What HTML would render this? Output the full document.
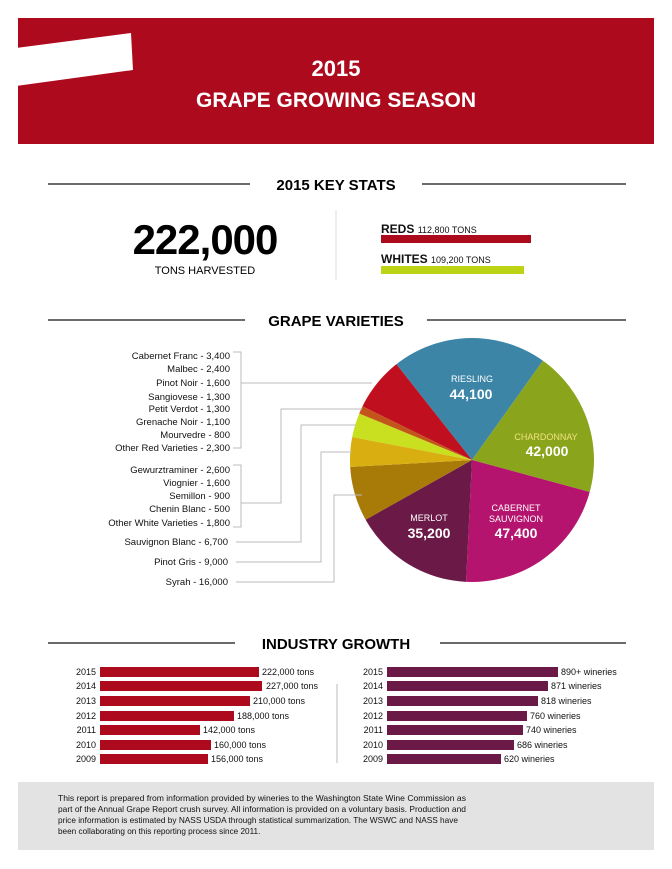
<!DOCTYPE html>
<html><head><meta charset="utf-8"><style>
html,body{margin:0;padding:0;width:672px;height:869px;overflow:hidden;}
body{background:#fff;position:relative;font-family:"Liberation Sans",sans-serif;}
svg{display:block}
</style></head><body>
<svg width="672" height="869" style="position:absolute;left:0;top:0" font-family="Liberation Sans, sans-serif">
<rect x="18" y="18" width="636" height="126" fill="#ad0a1e"/>
<polygon points="16,48 131,33 133,70 16,86" fill="#fff"/>
<text x="336" y="76" fill="#fff" font-size="22" font-weight="bold" text-anchor="middle">2015</text>
<text x="336" y="107" fill="#fff" font-size="21" font-weight="bold" text-anchor="middle">GRAPE GROWING SEASON</text>
<line x1="48" y1="184" x2="250" y2="184" stroke="#111" stroke-width="1.2"/>
<line x1="422" y1="184" x2="626" y2="184" stroke="#111" stroke-width="1.2"/>
<text x="336" y="190" font-size="15" font-weight="bold" text-anchor="middle">2015 KEY STATS</text>
<text x="205" y="254" font-size="42" font-weight="bold" text-anchor="middle" letter-spacing="-1">222,000</text>
<text x="205" y="274" font-size="11" text-anchor="middle">TONS HARVESTED</text>
<line x1="336" y1="210" x2="336" y2="280" stroke="#ddd"/>
<text x="381" y="233" font-size="12" font-weight="bold" fill="#111">REDS <tspan font-size="9" font-weight="normal">112,800 TONS</tspan></text>
<rect x="381" y="235" width="150" height="8" fill="#ad0a1e"/>
<text x="381" y="263" font-size="12" font-weight="bold" fill="#111">WHITES <tspan font-size="9" font-weight="normal">109,200 TONS</tspan></text>
<rect x="381" y="266" width="143" height="8" fill="#bcd414"/>
<line x1="48" y1="320" x2="245" y2="320" stroke="#111" stroke-width="1.2"/>
<line x1="427" y1="320" x2="626" y2="320" stroke="#111" stroke-width="1.2"/>
<text x="336" y="326" font-size="15" font-weight="bold" text-anchor="middle">GRAPE VARIETIES</text>
<defs><clipPath id="pc"><circle cx="472" cy="460" r="122"/></clipPath></defs>
<g clip-path="url(#pc)">
<polygon points="472,460 172,80 752,68" fill="#3d85a6"/>
<polygon points="472,460 752,68 944,588" fill="#8aa51c"/>
<polygon points="472,460 944,588 448,952" fill="#b5146e"/>
<polygon points="472,460 448,952 44,700" fill="#6b1a48"/>
<polygon points="472,460 44,700 -16,488" fill="#a87a08"/>
<polygon points="472,460 -16,488 -8,368" fill="#d9ae10"/>
<polygon points="472,460 -8,368 16,272" fill="#c8e020"/>
<polygon points="472,460 16,272 32,244" fill="#c4551a"/>
<polygon points="472,460 32,244 172,80" fill="#c00f1f"/>
</g>
<g fill="#fff" text-anchor="middle" font-weight="bold">
<text x="472" y="382" font-size="9" font-weight="normal">RIESLING</text>
<text x="471" y="399" font-size="14">44,100</text>
<text x="546" y="440" font-size="9" font-weight="normal" fill="#f0e080">CHARDONNAY</text>
<text x="547" y="456" font-size="14">42,000</text>
<text x="516" y="511" font-size="9" font-weight="normal">CABERNET</text>
<text x="516" y="522" font-size="9" font-weight="normal">SAUVIGNON</text>
<text x="516" y="538" font-size="14">47,400</text>
<text x="429" y="521" font-size="9" font-weight="normal">MERLOT</text>
<text x="429" y="538" font-size="14">35,200</text>
</g>
<g stroke="#bbb" fill="none" stroke-width="1">
<polyline points="233,352 241,352 241,448 233,448"/><line x1="241" y1="383" x2="372" y2="383"/>
<polyline points="233,465 241,465 241,527 233,527"/><polyline points="241,503 281,503 281,409 362,409"/>
<polyline points="236,542 301,542 301,425 356,425"/>
<polyline points="236,562 321,562 321,452 352,452"/>
<polyline points="236,582 334,582 334,495 362,495"/>
</g>
<g font-size="9.5" text-anchor="end" fill="#111">
<text x="230" y="359">Cabernet Franc - 3,400</text>
<text x="230" y="372">Malbec - 2,400</text>
<text x="230" y="386">Pinot Noir - 1,600</text>
<text x="230" y="400">Sangiovese - 1,300</text>
<text x="230" y="412">Petit Verdot - 1,300</text>
<text x="230" y="425">Grenache Noir - 1,100</text>
<text x="230" y="438">Mourvedre - 800</text>
<text x="230" y="451">Other Red Varieties - 2,300</text>
<text x="230" y="473">Gewurztraminer - 2,600</text>
<text x="230" y="486">Viognier - 1,600</text>
<text x="230" y="499">Semillon - 900</text>
<text x="230" y="512">Chenin Blanc - 500</text>
<text x="230" y="526">Other White Varieties - 1,800</text>
<text x="228" y="545">Sauvignon Blanc - 6,700</text>
<text x="228" y="565">Pinot Gris - 9,000</text>
<text x="228" y="585">Syrah - 16,000</text>
</g>
<line x1="48" y1="643" x2="235" y2="643" stroke="#111" stroke-width="1.2"/>
<line x1="440" y1="643" x2="626" y2="643" stroke="#111" stroke-width="1.2"/>
<text x="336" y="649" font-size="15" font-weight="bold" text-anchor="middle">INDUSTRY GROWTH</text>
<line x1="337" y1="684" x2="337" y2="763" stroke="#bbb"/>
<g font-size="9" fill="#111">
<g text-anchor="end">
<text x="96" y="675">2015</text><text x="96" y="689">2014</text><text x="96" y="704">2013</text><text x="96" y="719">2012</text><text x="96" y="733">2011</text><text x="96" y="748">2010</text><text x="96" y="762">2009</text>
<text x="383" y="675">2015</text><text x="383" y="689">2014</text><text x="383" y="704">2013</text><text x="383" y="719">2012</text><text x="383" y="733">2011</text><text x="383" y="748">2010</text><text x="383" y="762">2009</text>
</g>
<g fill="#ad0a1e"><rect x="100" y="667" width="159" height="10"/><rect x="100" y="681" width="162" height="10"/><rect x="100" y="696" width="150" height="10"/><rect x="100" y="711" width="134" height="10"/><rect x="100" y="725" width="100" height="10"/><rect x="100" y="740" width="111" height="10"/><rect x="100" y="754" width="108" height="10"/></g>
<text x="262" y="675">222,000 tons</text><text x="266" y="689">227,000 tons</text><text x="253" y="704">210,000 tons</text><text x="237" y="719">188,000 tons</text><text x="203" y="733">142,000 tons</text><text x="214" y="748">160,000 tons</text><text x="211" y="762">156,000 tons</text>
<g fill="#6b1a48"><rect x="387" y="667" width="171" height="10"/><rect x="387" y="681" width="161" height="10"/><rect x="387" y="696" width="151" height="10"/><rect x="387" y="711" width="140" height="10"/><rect x="387" y="725" width="136" height="10"/><rect x="387" y="740" width="127" height="10"/><rect x="387" y="754" width="114" height="10"/></g>
<text x="561" y="675">890+ wineries</text><text x="551" y="689">871 wineries</text><text x="541" y="704">818 wineries</text><text x="530" y="719">760 wineries</text><text x="526" y="733">740 wineries</text><text x="517" y="748">686 wineries</text><text x="504" y="762">620 wineries</text>
</g>
<rect x="18" y="782" width="636" height="68" fill="#e3e3e3"/>
<g font-size="8.2" fill="#111">
<text x="58" y="801" textLength="408" lengthAdjust="spacingAndGlyphs">This report is prepared from information provided by wineries to the Washington State Wine Commission as</text>
<text x="58" y="812" textLength="408" lengthAdjust="spacingAndGlyphs">part of the Annual Grape Report crush survey. All information is provided on a voluntary basis. Production and</text>
<text x="58" y="823" textLength="400" lengthAdjust="spacingAndGlyphs">price information is estimated by NASS USDA through statistical summarization. The WSWC and NASS have</text>
<text x="58" y="834">been collaborating on this reporting process since 2011.</text>
</g>
</svg>
</body></html>
